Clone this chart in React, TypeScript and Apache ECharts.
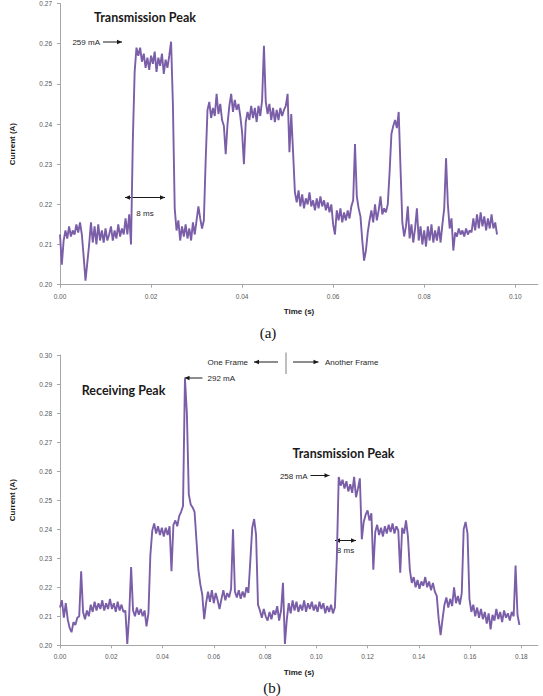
import React, { useEffect, useRef } from "react";
import * as echarts from "echarts";

// Supply current sampled at a fixed period (mA), panel (a): one transmission burst
const SAMPLE_A_MS = 0.4;
const currentA_mA = [
  212.5, 205.0, 211.0, 213.5, 211.5, 214.5, 212.0, 213.5, 212.5, 215.0,
  213.0, 215.5, 212.5, 207.0, 201.0, 205.5, 210.0, 215.5, 210.5, 214.5,
  210.0, 215.0, 211.0, 213.5, 210.5, 214.0, 211.0, 212.5, 214.5, 211.0,
  213.5, 211.5, 215.0, 212.0, 214.0, 212.5, 216.5, 212.5, 217.5, 210.0,
  236.0, 253.0, 259.0, 257.0, 259.0, 255.5, 257.5, 254.0, 256.5, 253.5,
  257.0, 255.0, 258.0, 253.0, 256.5, 254.5, 257.5, 252.5, 256.0, 254.0,
  257.0, 260.5, 245.0, 219.0, 213.5, 216.0, 211.0, 214.5, 212.0, 215.0,
  211.5, 214.0, 211.0, 215.5, 212.5, 216.0, 219.5, 216.5, 214.0, 216.0,
  231.0, 243.5, 245.5, 241.5, 244.0, 242.0, 247.5, 242.5, 245.0, 241.0,
  239.5, 232.5, 240.0, 244.5, 247.5, 243.0, 246.0, 243.5, 245.0, 242.0,
  238.0, 230.0, 240.5, 243.0, 241.0, 244.5, 241.5, 244.0, 240.5, 244.5,
  242.0, 246.0, 259.5, 245.5, 242.5, 245.0, 241.0, 244.0, 240.5, 243.5,
  241.0, 244.0, 242.0, 243.5, 244.5, 247.5, 233.0, 242.5, 233.0, 223.0,
  220.5, 223.5, 219.5, 222.5, 219.0, 221.5, 220.0, 223.0, 219.5, 221.0,
  218.5, 221.5, 219.0, 222.0, 219.5, 221.0, 218.5, 220.5, 218.0, 220.0,
  215.0, 212.5, 218.5, 216.0, 219.0, 215.5, 218.0, 216.0, 218.5, 216.5,
  219.5, 221.0, 235.0, 222.0, 219.0, 217.0, 211.0, 206.0, 208.5, 213.0,
  216.0, 218.5, 215.5, 220.0, 216.0, 218.5, 222.0, 217.5, 219.0, 218.0,
  220.0, 228.0, 237.5, 239.5, 241.0, 239.0, 243.0, 229.0, 215.5, 212.0,
  214.5, 219.5, 211.5, 215.0, 210.5, 214.0, 219.0, 211.0, 214.5, 210.0,
  213.5, 209.5, 214.5, 211.0, 215.0, 210.5, 213.5, 211.0, 214.5, 210.5,
  215.0, 219.0, 231.5, 220.0, 214.0, 216.5, 208.5, 213.0, 212.0, 214.0,
  212.5, 213.5, 212.0, 214.0, 212.5, 213.5, 213.0, 216.5, 213.5, 217.5,
  214.0, 218.0, 214.5, 217.0, 213.5, 216.5, 214.0, 217.5, 214.0, 215.5,
  212.5,
];

// Panel (b): a receiving burst followed by a transmission burst
const SAMPLE_B_MS = 0.75;
const currentB_mA = [
  213.0, 215.5, 209.5, 214.5, 209.0, 206.0, 204.5, 208.0, 207.0, 209.5,
  210.0, 225.5, 211.5, 209.0, 212.0, 210.0, 214.0, 211.5, 215.0, 212.0,
  214.5, 212.5, 215.5, 212.0, 214.5, 212.5, 216.0, 212.5, 214.5, 211.5,
  215.0, 212.0, 214.0, 211.5, 212.0, 200.5, 210.5, 227.0, 212.0, 210.0,
  213.0, 210.5, 212.5, 210.0, 212.0, 206.5, 211.0, 231.0, 239.5, 242.0,
  238.5, 241.0, 238.0, 240.5, 237.5, 240.5, 238.0, 241.0, 225.5, 241.5,
  243.0, 241.0, 244.5, 246.0, 248.0, 292.0, 280.0, 252.0, 248.5, 247.5,
  246.0, 236.0, 226.0, 221.0, 217.5, 209.0, 214.5, 218.5, 215.0, 219.0,
  214.5, 218.0, 215.5, 212.5, 216.0, 219.0, 215.5, 218.0, 216.5, 219.5,
  240.0, 218.5, 216.5, 219.0, 216.0, 218.5, 216.5, 220.0, 218.0, 229.0,
  240.5, 243.5, 238.0, 214.0, 212.0, 209.5, 212.5, 210.0, 208.5, 211.5,
  209.0, 212.0, 210.5, 213.5, 208.5, 212.0, 221.5, 200.5, 209.0, 214.5,
  211.0, 215.5, 212.0, 215.0, 211.5, 214.0, 212.0, 215.5, 211.5, 214.5,
  212.5, 215.0, 212.0, 214.0, 211.5, 215.0, 212.5, 214.5, 211.0, 213.5,
  211.5, 214.0, 211.0, 213.0, 230.0, 258.0, 255.0, 257.0, 254.0, 256.5,
  253.0, 255.5, 252.5, 258.0, 251.0, 254.0, 257.5, 236.5, 242.5, 245.0,
  246.5, 243.0, 245.5, 226.0, 239.0, 241.5, 238.0, 240.5, 237.5, 241.0,
  238.5, 241.5, 239.0, 242.0, 238.5, 241.0, 239.5, 225.0, 240.5, 238.5,
  243.0, 237.5, 226.0, 221.5, 223.5, 220.0, 222.5, 219.5, 222.0, 220.5,
  223.5, 220.0, 222.0, 219.0, 221.5, 218.5, 217.0, 209.0, 203.5, 209.0,
  214.0, 216.5, 213.0, 216.0, 213.5, 220.0, 214.5, 217.0, 214.0, 218.0,
  240.0, 242.5, 238.5, 216.0, 211.5, 214.0, 210.0, 213.0, 209.5, 212.5,
  209.0, 211.5, 207.5, 211.0, 205.5, 210.5, 208.5, 212.5, 209.0, 211.5,
  208.0, 212.0, 209.5, 211.0, 208.5, 211.5, 210.0, 227.5, 210.5, 207.0,
];

const xTicksA = [0, 0.02, 0.04, 0.06, 0.08, 0.1];
const xTicksB = [0, 0.02, 0.04, 0.06, 0.08, 0.1, 0.12, 0.14, 0.16, 0.18];

const toPoints = (values: number[], stepMs: number) =>
  values.map((v, i) => [(i * stepMs) / 1000, v / 1000]);

const PURPLE = "#7B5EA8";
const AXIS_GRAY = "#A6A6A6";
const LABEL_GRAY = "#595959";
const SANS = "'Liberation Sans', Arial, sans-serif";
const TITLE_FONT = "Lato, 'Open Sans', sans-serif";

type Pt = [number, number];

// Thin black arrow; head(s) drawn as small filled triangles
function arrow(from: Pt, to: Pt, both = false): any[] {
  const els: any[] = [
    {
      type: "line",
      shape: { x1: from[0], y1: from[1], x2: to[0], y2: to[1] },
      style: { stroke: "#1a1a1a", lineWidth: 1 },
    },
  ];
  const head = (tip: Pt, tail: Pt) => {
    const dx = tip[0] - tail[0];
    const dy = tip[1] - tail[1];
    const len = Math.hypot(dx, dy) || 1;
    const ux = dx / len;
    const uy = dy / len;
    const L = 5;
    const W = 2.2;
    return {
      type: "polygon",
      shape: {
        points: [
          [tip[0], tip[1]],
          [tip[0] - ux * L - uy * W, tip[1] - uy * L + ux * W],
          [tip[0] - ux * L + uy * W, tip[1] - uy * L - ux * W],
        ],
      },
      style: { fill: "#1a1a1a" },
    };
  };
  els.push(head(to, from));
  if (both) els.push(head(from, to));
  return els;
}

function label(
  text: string,
  x: number,
  y: number,
  align: "left" | "center" | "right" = "left",
  opts: any = {}
): any {
  return {
    type: "text",
    x,
    y,
    style: {
      text,
      align,
      verticalAlign: "middle",
      font: opts.font || `8px ${SANS}`,
      fill: opts.fill || "#262626",
    },
  };
}

const boldTitle = (text: string, x: number, y: number) =>
  label(text, x, y, "center", { font: `bold 12.5px ${TITLE_FONT}`, fill: "#1a1a1a" });

const caption = (text: string, x: number, y: number) =>
  label(text, x, y, "center", { font: `15px 'Liberation Serif', 'DejaVu Serif', serif`, fill: "#111" });

function xAxisFor(gridIndex: number, max: number, ticks: number[]): any {
  return {
    type: "value",
    gridIndex,
    min: 0,
    max,
    name: "Time (s)",
    nameLocation: "middle",
    nameGap: 23,
    nameTextStyle: { fontFamily: SANS, fontWeight: "bold", fontSize: 8, color: "#1a1a1a" },
    axisLine: { show: true, onZero: false, lineStyle: { color: AXIS_GRAY, width: 1 } },
    axisTick: { show: true, length: 3, customValues: ticks, lineStyle: { color: AXIS_GRAY } },
    axisLabel: {
      customValues: ticks,
      formatter: (v: number) => v.toFixed(2),
      fontFamily: SANS,
      fontSize: 6.5,
      color: LABEL_GRAY,
      margin: 8,
    },
    splitLine: { show: false },
  };
}

function yAxisFor(gridIndex: number, max: number): any {
  return {
    type: "value",
    gridIndex,
    min: 0.2,
    max,
    interval: 0.01,
    name: "Current (A)",
    nameLocation: "middle",
    nameGap: 44,
    nameRotate: 90,
    nameTextStyle: { fontFamily: SANS, fontWeight: "bold", fontSize: 8, color: "#1a1a1a" },
    axisLine: { show: true, lineStyle: { color: AXIS_GRAY, width: 1 } },
    axisTick: { show: true, length: 3, lineStyle: { color: AXIS_GRAY } },
    axisLabel: {
      formatter: (v: number) => v.toFixed(2),
      fontFamily: SANS,
      fontSize: 6.5,
      color: LABEL_GRAY,
      margin: 8,
    },
    splitLine: { show: false },
  };
}

function buildGraphics(): any[] {
  return [
    // panel (a)
    boldTitle("Transmission Peak", 145, 17),
    label("259 mA", 100, 42, "right"),
    ...arrow([103, 42], [122, 42]),
    ...arrow([125, 197.5], [165, 197.5], true),
    label("8 ms", 145, 213, "center"),
    caption("(a)", 268, 333),

    // panel (b)
    label("One Frame", 248, 362, "right"),
    ...arrow([278, 362], [254, 362]),
    {
      type: "line",
      shape: { x1: 286, y1: 352.5, x2: 286, y2: 374 },
      style: { stroke: "#7f7f7f", lineWidth: 1 },
    },
    ...arrow([293, 362], [318.5, 362]),
    label("Another Frame", 325, 362, "left"),
    label("292 mA", 207.5, 378.5, "left"),
    ...arrow([202.5, 378], [184.5, 378]),
    boldTitle("Receiving Peak", 123.5, 390),
    boldTitle("Transmission Peak", 343.5, 453),
    label("258 mA", 307.5, 476, "right"),
    ...arrow([310.5, 475.5], [329.5, 475.5]),
    ...arrow([335, 540.5], [356, 540.5], true),
    label("8 ms", 345.5, 550.5, "center"),
    caption("(b)", 272, 688),
  ];
}

export default function App() {
  const ref = useRef<HTMLDivElement>(null);

  useEffect(() => {
    document.body.style.margin = "0";
    if (!ref.current) return;
    const chart = echarts.init(ref.current, undefined, { renderer: "svg" });

    chart.setOption({
      animation: false,
      backgroundColor: "#ffffff",
      grid: [
        { left: 50, right: 5, top: -1.6, height: 286.3, containLabel: false },
        { left: 50.5, right: 5, top: 355, height: 290.3, containLabel: false },
      ],
      xAxis: [xAxisFor(0, 0.105, xTicksA), xAxisFor(1, 0.1865, xTicksB)],
      yAxis: [yAxisFor(0, 0.27), yAxisFor(1, 0.3)],
      series: [
        {
          type: "line",
          xAxisIndex: 0,
          yAxisIndex: 0,
          data: toPoints(currentA_mA, SAMPLE_A_MS),
          showSymbol: false,
          lineStyle: { color: PURPLE, width: 1.9 },
          itemStyle: { color: PURPLE },
        },
        {
          type: "line",
          xAxisIndex: 1,
          yAxisIndex: 1,
          data: toPoints(currentB_mA, SAMPLE_B_MS),
          showSymbol: false,
          lineStyle: { color: PURPLE, width: 1.9 },
          itemStyle: { color: PURPLE },
        },
      ],
      graphic: buildGraphics(),
    });

    return () => chart.dispose();
  }, []);

  return <div ref={ref} style={{ width: 543, height: 696 }} />;
}
